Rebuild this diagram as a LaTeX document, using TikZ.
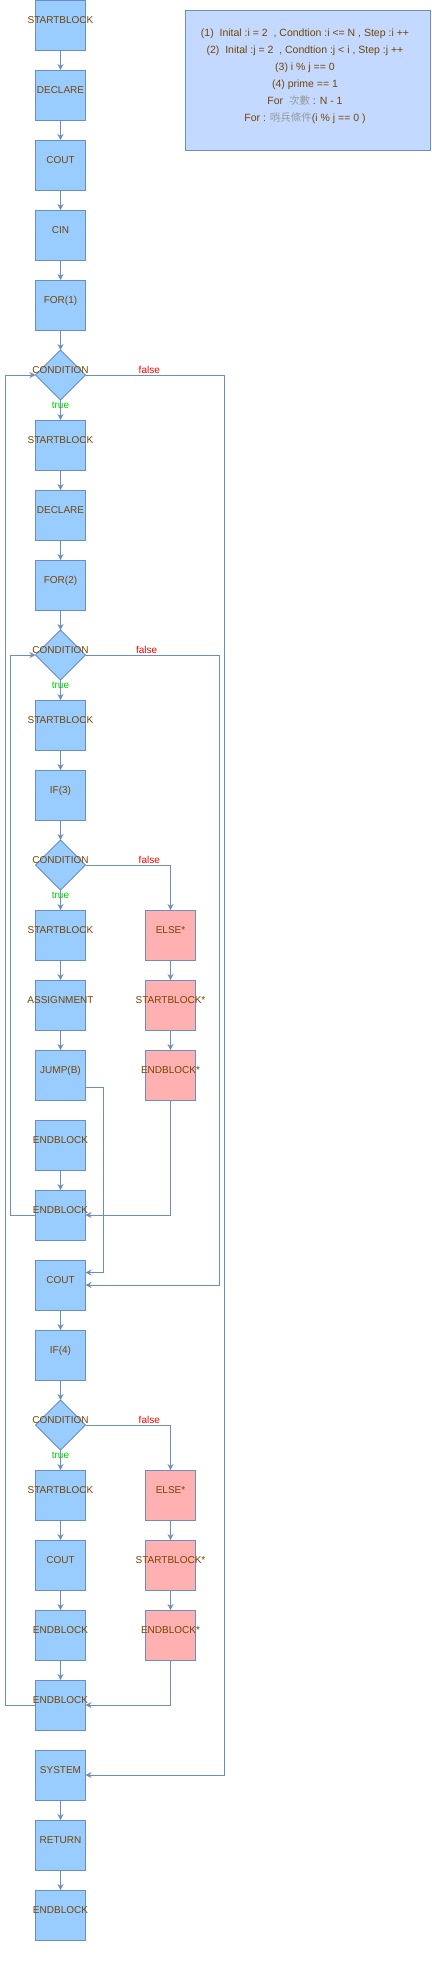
\documentclass[tikz,border=0pt]{standalone}
\usepackage{fontspec}
\setmainfont{Liberation Sans}
\newfontfamily\cjk{Noto Sans CJK TC}
\usetikzlibrary{shapes.geometric,arrows.meta}
\definecolor{bfill}{HTML}{99CCFF}
\definecolor{bline}{HTML}{6C8EBF}
\definecolor{rfill}{HTML}{FFB0B0}
\definecolor{ifill}{HTML}{C3D9FF}
\definecolor{tcol}{HTML}{774400}
\definecolor{gcol}{HTML}{999999}
\definecolor{tgreen}{HTML}{00CC00}
\definecolor{tred}{HTML}{FF0000}
\begin{document}
\begin{tikzpicture}[x=1pt,y=-1pt,
  box/.style={draw=bline, line width=1pt, fill=bfill, minimum width=50pt, minimum height=50pt, inner sep=0pt, outer sep=0pt},
  rbox/.style={box, fill=rfill},
  cond/.style={diamond, aspect=1, draw=bline, line width=1pt, fill=bfill, minimum width=50pt, minimum height=50pt, inner sep=0pt, outer sep=0pt},
  lbl/.style={text=tcol, font=\fontsize{10}{12}\selectfont, inner sep=0pt, text height=7.2pt, text depth=0pt, yshift=5pt},
  tl/.style={text=tgreen, font=\fontsize{10}{12}\selectfont, inner sep=0pt, text height=7.2pt, text depth=0pt, pos=0.25},
  fl/.style={text=tred, font=\fontsize{10}{12}\selectfont, inner sep=0pt, text height=7.2pt, text depth=0pt},
  arr/.style={draw=bline, line width=1pt, -{Stealth[length=6pt,width=6pt,inset=2pt]}},
  ibox/.style={draw=bline, line width=1pt, fill=ifill, minimum width=245pt, minimum height=140pt, inner sep=0pt}
]
\useasboundingbox (0,0) rectangle (431,1962);
% info box
\node[ibox] (info) at (307.5,80) {};
\node[text=tcol, font=\fontsize{10.5}{17}\selectfont, align=center, inner sep=0pt] (infotext) at (305,76) {%
(1)~~Inital :i = 2~~, Condtion :i <= N , Step :i ++\\
(2)~~Inital :j = 2~~, Condtion :j < i , Step :j ++\\
(3) i \% j == 0\\
(4) prime == 1\\
For~ {\cjk\color{gcol}次數} : N - 1\\
For : {\cjk\color{gcol}哨兵條件}(i \% j == 0 )};
% left column
\node[box, label={[lbl]center:STARTBLOCK}] (n0) at (60.5,25) {};
\node[box, label={[lbl]center:DECLARE}] (n1) at (60.5,95) {};
\node[box, label={[lbl]center:COUT}] (n2) at (60.5,165) {};
\node[box, label={[lbl]center:CIN}] (n3) at (60.5,235) {};
\node[box, label={[lbl]center:FOR(1)}] (n4) at (60.5,305) {};
\node[cond, label={[lbl]center:CONDITION}] (c1) at (60.5,375) {};
\node[box, label={[lbl]center:STARTBLOCK}] (n6) at (60.5,445) {};
\node[box, label={[lbl]center:DECLARE}] (n7) at (60.5,515) {};
\node[box, label={[lbl]center:FOR(2)}] (n8) at (60.5,585) {};
\node[cond, label={[lbl]center:CONDITION}] (c2) at (60.5,655) {};
\node[box, label={[lbl]center:STARTBLOCK}] (n10) at (60.5,725) {};
\node[box, label={[lbl]center:IF(3)}] (n11) at (60.5,795) {};
\node[cond, label={[lbl]center:CONDITION}] (c3) at (60.5,865) {};
\node[box, label={[lbl]center:STARTBLOCK}] (n13) at (60.5,935) {};
\node[box, label={[lbl]center:ASSIGNMENT}] (n14) at (60.5,1005) {};
\node[box, label={[lbl]center:JUMP(B)}] (n15) at (60.5,1075) {};
\node[box, label={[lbl]center:ENDBLOCK}] (n16) at (60.5,1145) {};
\node[box, label={[lbl]center:ENDBLOCK}] (n17) at (60.5,1215) {};
\node[box, label={[lbl]center:COUT}] (n18) at (60.5,1285) {};
\node[box, label={[lbl]center:IF(4)}] (n19) at (60.5,1355) {};
\node[cond, label={[lbl]center:CONDITION}] (c4) at (60.5,1425) {};
\node[box, label={[lbl]center:STARTBLOCK}] (n21) at (60.5,1495) {};
\node[box, label={[lbl]center:COUT}] (n22) at (60.5,1565) {};
\node[box, label={[lbl]center:ENDBLOCK}] (n23) at (60.5,1635) {};
\node[box, label={[lbl]center:ENDBLOCK}] (n24) at (60.5,1705) {};
\node[box, label={[lbl]center:SYSTEM}] (n25) at (60.5,1775) {};
\node[box, label={[lbl]center:RETURN}] (n26) at (60.5,1845) {};
\node[box, label={[lbl]center:ENDBLOCK}] (n27) at (60.5,1915) {};
% right column
\node[rbox, label={[lbl]center:ELSE*}] (e1) at (170.5,935) {};
\node[rbox, label={[lbl]center:STARTBLOCK*}] (s1) at (170.5,1005) {};
\node[rbox, label={[lbl]center:ENDBLOCK*}] (d1) at (170.5,1075) {};
\node[rbox, label={[lbl]center:ELSE*}] (e2) at (170.5,1495) {};
\node[rbox, label={[lbl]center:STARTBLOCK*}] (s2) at (170.5,1565) {};
\node[rbox, label={[lbl]center:ENDBLOCK*}] (d2) at (170.5,1635) {};
% routing coordinates
\coordinate (r1) at (224.3,0);
\coordinate (r2) at (219.7,0);
\coordinate (l1) at (5.3,0);
\coordinate (l2) at (10.3,0);
\coordinate (jx) at (103.3,0);
\coordinate (jo) at ([yshift=-12.5pt]n15.east);
\coordinate (ji) at ([yshift=12.5pt]n18.east);
% false labels
\node[fl] (f1) at (149.3,370) {false};
\node[fl] (f2) at (146.7,650) {false};
\node[fl] (f3) at (149.3,860) {false};
\node[fl] (f4) at (149.3,1420) {false};
% straight arrows
\draw[arr] (n0) -- (n1);
\draw[arr] (n1) -- (n2);
\draw[arr] (n2) -- (n3);
\draw[arr] (n3) -- (n4);
\draw[arr] (n4) -- (c1);
\draw[arr] (c1) -- node[tl] (t1) {true} (n6);
\draw[arr] (n6) -- (n7);
\draw[arr] (n7) -- (n8);
\draw[arr] (n8) -- (c2);
\draw[arr] (c2) -- node[tl] (t2) {true} (n10);
\draw[arr] (n10) -- (n11);
\draw[arr] (n11) -- (c3);
\draw[arr] (c3) -- node[tl] (t3) {true} (n13);
\draw[arr] (n13) -- (n14);
\draw[arr] (n14) -- (n15);
\draw[arr] (n16) -- (n17);
\draw[arr] (n18) -- (n19);
\draw[arr] (n19) -- (c4);
\draw[arr] (c4) -- node[tl] (t4) {true} (n21);
\draw[arr] (n21) -- (n22);
\draw[arr] (n22) -- (n23);
\draw[arr] (n23) -- (n24);
\draw[arr] (n25) -- (n26);
\draw[arr] (n26) -- (n27);
\draw[arr] (e1) -- (s1);
\draw[arr] (s1) -- (d1);
\draw[arr] (e2) -- (s2);
\draw[arr] (s2) -- (d2);
% routed arrows
\draw[arr] (c1.east) -- (c1.east -| r1) -- (r1 |- n25.east) -- (n25.east);
\draw[arr] (n24.west) -- (n24.west -| l1) -- (l1 |- c1.west) -- (c1.west);
\draw[arr] (c2.east) -- (c2.east -| r2) -- (r2 |- n18.east) -- (n18.east);
\draw[arr] (n17.west) -- (n17.west -| l2) -- (l2 |- c2.west) -- (c2.west);
\draw[arr] (c3.east) -| (e1.north);
\draw[arr] (d1.south) |- (n17.east);
\draw[arr] (jo) -- (jo -| jx) -- (jx |- ji) -- (ji);
\draw[arr] (c4.east) -| (e2.north);
\draw[arr] (d2.south) |- (n24.east);
\end{tikzpicture}
\end{document}
